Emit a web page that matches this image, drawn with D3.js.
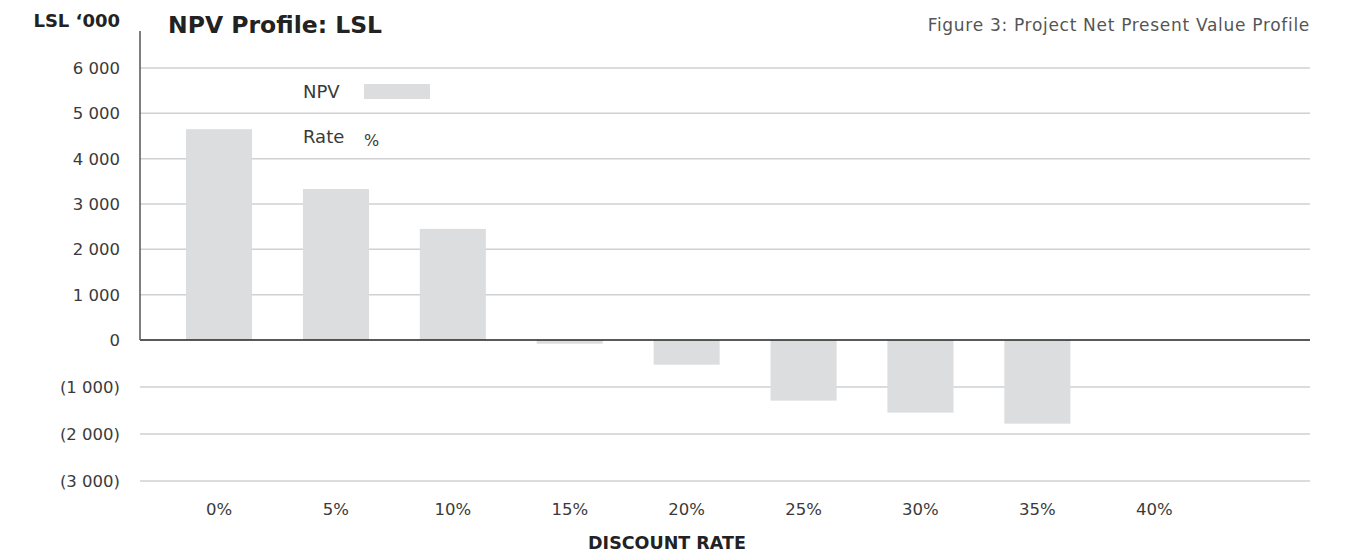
<!DOCTYPE html>
<html>
<head>
<meta charset="utf-8">
<script src="https://cdn.jsdelivr.net/npm/d3@7"></script>
<style>
  html, body { margin: 0; padding: 0; background: #fff; }
  svg { display: block; font-family: "DejaVu Sans", sans-serif; }
</style>
</head>
<body>
<div id="chart"></div>
<script>
// values (LSL '000)
const rates = ["0%", "5%", "10%", "15%", "20%", "25%", "30%", "35%", "40%"];
const npv = [4650, 3330, 2450, -80, -525, -1290, -1545, -1780, null];
const yTicks = [6000, 5000, 4000, 3000, 2000, 1000, 0, -1000, -2000, -3000];

(function() {
  const W = 1358, H = 554;
  const plotLeft = 140, plotRight = 1310;

  const svg = d3.select("#chart").append("svg")
    .attr("width", W)
    .attr("height", H);

  const x = d3.scaleBand()
    .domain(rates)
    .range([160.6, 1212.7])
    .paddingInner(0.435)
    .paddingOuter(0.2175);

  // scale in the source is slightly wider below zero than above
  const y = d3.scaleLinear()
    .domain([-3000, 0, 6000])
    .range([481, 340, 68]);

  const spaced = d3.formatLocale({ decimal: ".", thousands: " ", grouping: [3], currency: ["", ""] }).format(",");
  const fmt = d => d < 0 ? `(${spaced(-d)})` : spaced(d);

  // gridlines
  svg.append("g")
    .selectAll("line")
    .data(yTicks.filter(d => d !== 0))
    .join("line")
    .attr("x1", plotLeft)
    .attr("x2", plotRight)
    .attr("y1", d => y(d))
    .attr("y2", d => y(d))
    .attr("stroke", "#cfd0d2")
    .attr("stroke-width", 1.5);

  // y tick labels
  svg.append("g")
    .selectAll("text")
    .data(yTicks)
    .join("text")
    .attr("x", 120)
    .attr("y", d => y(d))
    .attr("dy", "0.36em")
    .attr("text-anchor", "end")
    .attr("fill", "#3a3a3a")
    .style("font-size", "16.5px")
    .text(fmt);

  // bars
  svg.append("g")
    .selectAll("rect")
    .data(rates.map((r, i) => ({ rate: r, value: npv[i] })).filter(d => d.value !== null))
    .join("rect")
    .attr("x", d => x(d.rate))
    .attr("width", x.bandwidth())
    .attr("y", d => y(Math.max(0, d.value)))
    .attr("height", d => Math.abs(y(d.value) - y(0)))
    .attr("fill", "#dcdddf");

  // zero line and vertical axis
  svg.append("line")
    .attr("x1", plotLeft).attr("x2", plotRight)
    .attr("y1", y(0)).attr("y2", y(0))
    .attr("stroke", "#222")
    .attr("stroke-width", 1.5);

  svg.append("line")
    .attr("x1", plotLeft).attr("x2", plotLeft)
    .attr("y1", 31).attr("y2", y(0))
    .attr("stroke", "#555")
    .attr("stroke-width", 1.5);

  // x tick labels
  svg.append("g")
    .selectAll("text")
    .data(rates)
    .join("text")
    .attr("x", d => x(d) + x.bandwidth() / 2)
    .attr("y", 515)
    .attr("text-anchor", "middle")
    .attr("fill", "#3a3a3a")
    .style("font-size", "16.5px")
    .text(d => d);

  svg.append("text")
    .attr("x", 667)
    .attr("y", 549)
    .attr("text-anchor", "middle")
    .attr("fill", "#222")
    .style("font-size", "17.5px")
    .style("font-weight", 700)
    .text("DISCOUNT RATE");

  // titles
  svg.append("text")
    .attr("x", 120)
    .attr("y", 27)
    .attr("text-anchor", "end")
    .attr("fill", "#222")
    .style("font-size", "18px")
    .style("font-weight", 700)
    .text("LSL \u2018000");

  svg.append("text")
    .attr("x", 168)
    .attr("y", 33)
    .attr("fill", "#222")
    .style("font-size", "23.5px")
    .style("font-weight", 700)
    .text("NPV Profile: LSL");

  svg.append("text")
    .attr("x", 1310)
    .attr("y", 31)
    .attr("text-anchor", "end")
    .attr("fill", "#555")
    .style("font-size", "17px")
    .style("letter-spacing", "0.7px")
    .text("Figure 3: Project Net Present Value Profile");

  // legend
  const legend = svg.append("g").attr("fill", "#3a3a3a").style("font-size", "18px");
  legend.append("text").attr("x", 303).attr("y", 98).text("NPV");
  legend.append("rect")
    .attr("x", 364).attr("y", 84)
    .attr("width", 66).attr("height", 15)
    .attr("fill", "#dcdddf");
  legend.append("text").attr("x", 303).attr("y", 143).text("Rate");
  legend.append("text").attr("x", 364).attr("y", 146).style("font-size", "16px").text("%");
})();
</script>
</body>
</html>
